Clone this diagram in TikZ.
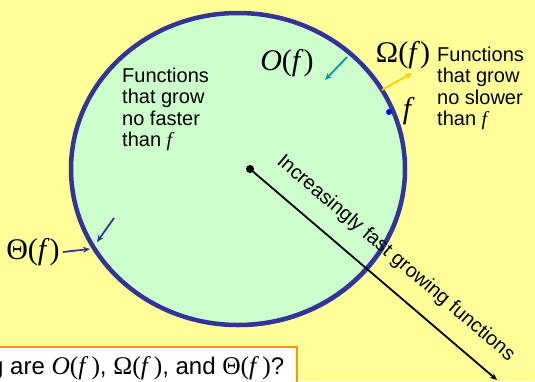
\documentclass[tikz,border=0pt]{standalone}
\usepackage{fontspec}
\setmainfont{Liberation Sans}
\newfontfamily\timesfont{Liberation Serif}
\usetikzlibrary{arrows.meta}

\definecolor{bgyellow}{HTML}{FFFF99}
\definecolor{setgreen}{HTML}{CCFFCC}
\definecolor{setblue}{HTML}{333399}
\definecolor{setshadow}{HTML}{008080}
\definecolor{oteal}{HTML}{009999}
\definecolor{omegagold}{HTML}{FFCC00}
\definecolor{boxorange}{HTML}{FF9900}

% set name such as O(f), Omega(f), Theta(f)
\newcommand{\setof}[1]{{\timesfont #1(\textit{f})}}
\newcommand{\setofq}[1]{{\timesfont\fontsize{25.5}{27}\selectfont #1(\textit{f}\hspace{3pt})}}
\newcommand{\fital}{{\timesfont\itshape f}}

\begin{document}
\begin{tikzpicture}[x=1pt, y=-1pt, >={Stealth[length=7pt, width=6pt]}]
  \fill[bgyellow] (0,0) rectangle (535,381);
  \useasboundingbox (0,0) rectangle (535,381);
  \tikzset{
    smalltext/.style={font=\fontsize{20}{21.5}\selectfont, align=left, inner sep=0pt},
    bigmath/.style={font=\fontsize{30}{32}\selectfont, inner sep=0pt},
    setarrow/.style={->, line width=1.8pt}
  }
  % the set of functions
  \fill[setshadow] (239.5,171) ellipse (167pt and 156pt);
  \draw[setblue, line width=4.5pt, fill=setgreen] (238,169) ellipse (167pt and 156pt);

  \node[smalltext, anchor=north west] (fasterlbl) at (122,67.5) {Functions\\that grow\\no faster\\than \fital};
  \node[smalltext, anchor=north west] (slowerlbl) at (437,46.5) {Functions\\that grow\\no slower\\than \fital};

  \node[bigmath] (olbl) at (287,63) {\setof{\textit{O}}};
  \node[bigmath] (omegalbl) at (403,55) {\setof{Ω}};
  \node[bigmath] (flbl) at (407,111) {\fital};
  \node[bigmath] (thetalbl) at (33,252) {\setof{Θ}};

  \coordinate (otail) at (347,57);
  \coordinate (ohead) at (325,80);
  \draw[setarrow, oteal] (otail) -- (ohead);
  \coordinate (omegatail) at (382,90);
  \coordinate (omegahead) at (412,73);
  \draw[setarrow, omegagold] (omegatail) -- (omegahead);
  \coordinate (thetahead) at (90,249);
  \draw[setarrow, setblue] (thetalbl.east) ++(3,0) coordinate (thetatail) -- (thetahead);
  \coordinate (inntail) at (114,218);
  \coordinate (innhead) at (97,242);
  \draw[setarrow, setblue] (inntail) -- (innhead);
  \fill[blue] (389,112) circle (3pt);

  % growth direction
  \coordinate (origin) at (250,169);
  \coordinate (far) at (497,380);
  \fill (origin) circle (4pt);
  \draw[->, line width=1.8pt] (origin) -- (far)
    node[pos=0.52, sloped, above=13pt, font=\fontsize{20}{21.5}\selectfont] (growlbl) {Increasingly fast growing functions};

  % question box
  \draw[boxorange, line width=2pt, fill=white] (-5,347) rectangle (297,395);
  \node[anchor=base west, inner sep=0pt, font=\fontsize{24}{26}\selectfont] (question) at (-10,374)
    {g are \setofq{\textit{O}}, \setofq{Ω}, and \setofq{Θ}?};
\end{tikzpicture}
\end{document}
